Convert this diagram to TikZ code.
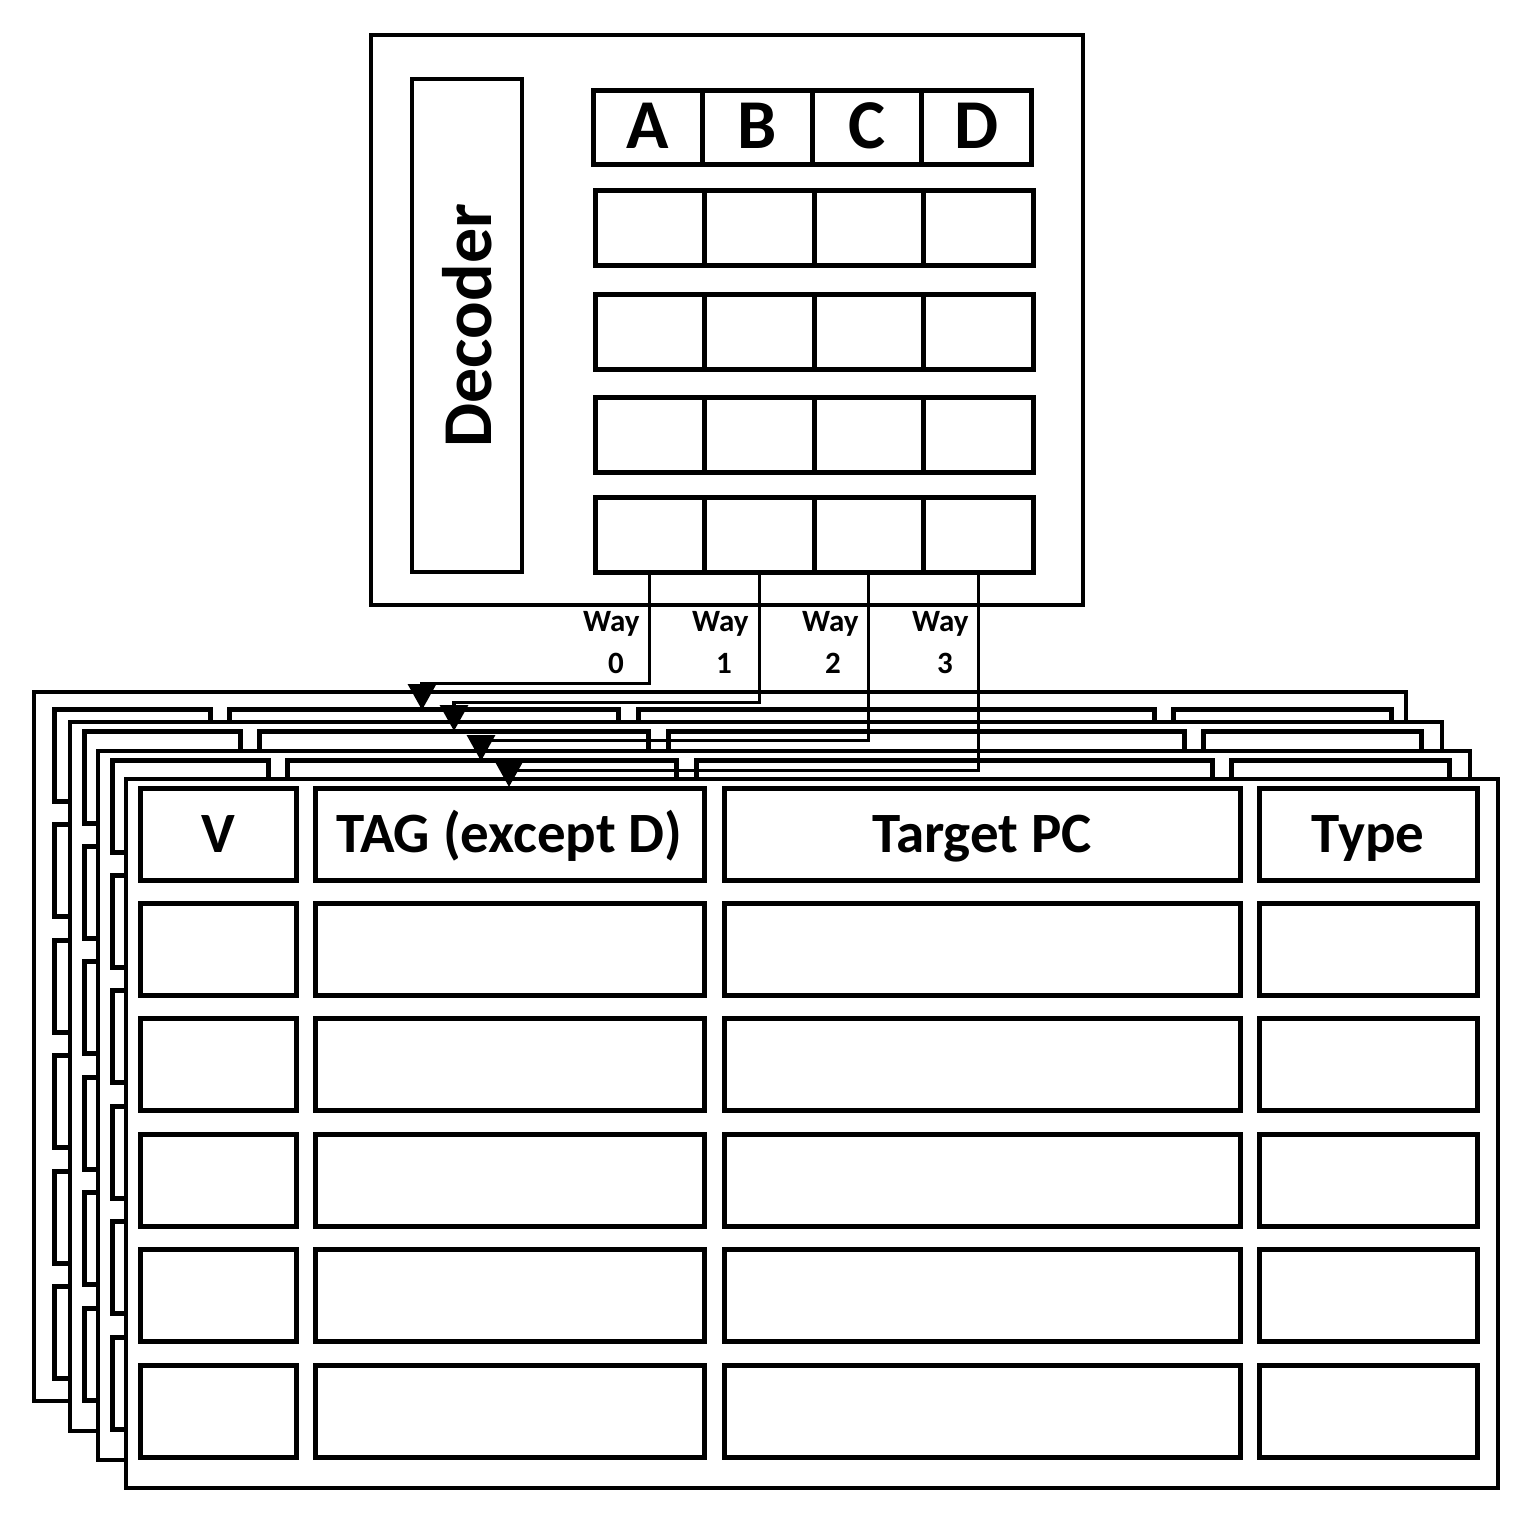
\documentclass[tikz,border=0pt]{standalone}
\usepackage{fontspec}
\setmainfont{Carlito}
\usetikzlibrary{arrows.meta}
\tikzset{
  frame/.style={draw, fill=white, line width=2pt, inner sep=0pt, outer sep=0pt, anchor=north west},
  cell/.style={draw, fill=white, line width=2.5pt, inner sep=0pt, outer sep=0pt, anchor=north west},
  hdr/.style={font=\bfseries\fontsize{28.5}{34}\selectfont, anchor=base, inner sep=0pt},
  big/.style={font=\bfseries\fontsize{35}{42}\selectfont, inner sep=0pt},
  waylbl/.style={font=\bfseries\fontsize{15.5}{18}\selectfont, inner sep=0pt},
  way/.style={line width=1.7pt, -{Triangle[width=14pt,length=13pt]}},
}
\begin{document}
\begin{tikzpicture}[x=0.5pt,y=-0.5pt]
\useasboundingbox (0,0) rectangle (1522,1515);
% ---- stacked tables (back to front)
\foreach \t/\ox/\oy/\sx/\sy in {0/34/692/6/8.5, 1/70/722/0/0, 2/98/751/0/0, 3/126/779/0/0} {
  \node[frame, minimum width=686pt, minimum height=354.5pt] (tab\t) at (\ox,\oy) {};
  \foreach \c/\cl/\cw in {0/14/156, 1/189/389, 2/598/516, 3/1133/218} {
    \foreach \r in {0,...,5} {
      \pgfmathsetmacro\cx{\ox+\sx+\cl}
      \pgfmathsetmacro\cy{\oy+\sy+9+115.4*\r}
      \node[cell, minimum width=\cw*0.5pt, minimum height=46pt] (t\t-\c-\r) at (\cx,\cy) {};
    }
  }
}
% headers of the front table
\node[hdr] (hV)   at ([yshift=-9pt]t3-0-0.center) {V};
\node[hdr] (hTAG) at ([yshift=-9pt]t3-1-0.center) {TAG (except D)};
\node[hdr] (hPC)  at ([yshift=-9pt]t3-2-0.center) {Target PC};
\node[hdr] (hTy)  at ([yshift=-9pt]t3-3-0.center) {Type};
% ---- decoder block
\node[frame, minimum width=356pt, minimum height=285pt] (dec) at (371,35) {};
\node[cell, line width=2pt, minimum width=55pt, minimum height=246.5pt] (decbox) at (412,79) {};
\node[big, rotate=90] (dectxt) at (decbox.center) {Decoder};
\foreach \k/\L in {0/A, 1/B, 2/C, 3/D} {
  \node[cell, minimum width=54.75pt, minimum height=37pt] (g0-\k) at (593+109.5*\k,90) {};
  \node[big, anchor=base] (L\k) at ([yshift=-10.5pt]g0-\k.center) {\L};
}
\foreach \r/\ry in {1/190, 2/294, 3/397, 4/497} {
  \foreach \k in {0,1,2,3} {
    \node[cell, minimum width=54.75pt, minimum height=37.75pt] (g\r-\k) at (595+109.5*\k,\ry) {};
  }
}
% ---- way connectors
\coordinate (tip0) at (422,710);
\coordinate (tip1) at (454,731);
\coordinate (tip2) at (481,761);
\coordinate (tip3) at (509,787);
\draw[way] (g4-0.south) -- ++(0,111) -| (tip0);
\draw[way] (g4-1.south) -- ++(0,130) -| (tip1);
\draw[way] (g4-2.south) -- ++(0,168) -| (tip2);
\draw[way] (g4-3.south) -- ++(0,198) -| (tip3);
% way labels
\node[waylbl, anchor=base east] (w0) at (640,631) {Way};
\node[waylbl, anchor=base east] (w1) at (749,631) {Way};
\node[waylbl, anchor=base east] (w2) at (859,631) {Way};
\node[waylbl, anchor=base east] (w3) at (969,631) {Way};
\node[waylbl, anchor=base] (n0) at (616,673) {0};
\node[waylbl, anchor=base] (n1) at (724,673) {1};
\node[waylbl, anchor=base] (n2) at (833,673) {2};
\node[waylbl, anchor=base] (n3) at (945,673) {3};
\end{tikzpicture}
\end{document}
